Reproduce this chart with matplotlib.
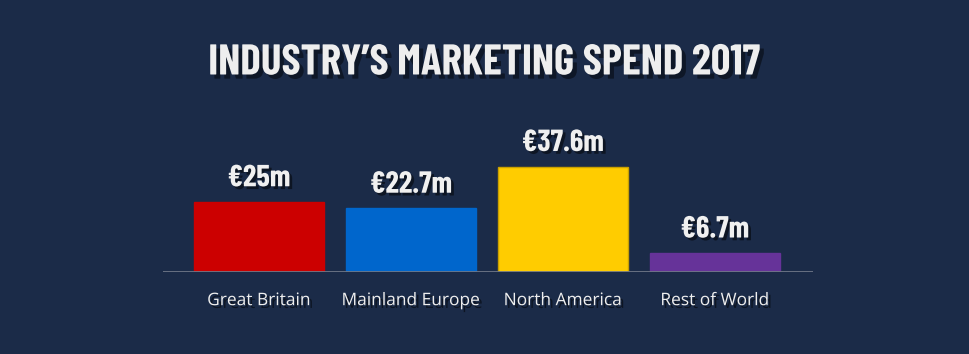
import matplotlib.pyplot as plt
import matplotlib.patheffects as pe
import numpy as np

categories = ["Great Britain", "Mainland Europe", "North America", "Rest of World"]
values = [25, 22.7, 37.6, 6.7]
value_labels = ["€25m", "€22.7m", "€37.6m", "€6.7m"]
colors = ["#cc0000", "#0066cc", "#ffcc00", "#663399"]
edges = ["#cc0000", "#0066cc", "#c9a000", "#663399"]
title = "INDUSTRY’S MARKETING SPEND 2017"

cond = ["Barlow Condensed", "DejaVu Sans"]
plain = ["Open Sans", "DejaVu Sans"]

bg = "#1b2b48"
W, H = 970, 354
fig = plt.figure(figsize=(W / 100, H / 100), dpi=100, facecolor=bg)

# axes placed so that baseline sits at y=272px, 2.8 px per unit
ax = fig.add_axes([163 / W, (H - 272) / H, 650 / W, 140 / H])
ax.set_facecolor(bg)
ax.set_xlim(-0.632, 3.645)
ax.set_ylim(0, 50)

x = np.arange(len(categories))
ax.bar(x, values, width=0.855, color=colors, edgecolor=edges, linewidth=1)
ax.axhline(0, color="#6f7787", linewidth=2)

shadow = [pe.withSimplePatchShadow(offset=(2, -2), shadow_rgbFace="black", alpha=0.5)]

for xi, v, lab in zip(x, values, value_labels):
    ax.annotate(lab, (xi, v), xytext=(0, 7), textcoords="offset points",
                ha="center", va="bottom", fontsize=22, fontweight="bold",
                color="#f0f0f0", family=cond, path_effects=shadow)

for xi, cat in zip(x, categories):
    ax.annotate(cat, (xi, 0), xytext=(0, -21), textcoords="offset points",
                ha="center", va="center", fontsize=12.5, color="#eeeeee",
                family=plain, path_effects=shadow)

for s in ax.spines.values():
    s.set_visible(False)
ax.set_xticks([])
ax.set_yticks([])

fig.text(484 / W, 1 - 63 / H, title, ha="center", va="center", fontsize=31,
         fontweight="bold", color="#eeeeee", family=cond,
         path_effects=[pe.withSimplePatchShadow(offset=(3, -3), shadow_rgbFace="black", alpha=0.45)])

fig.savefig("out.png", dpi=100, facecolor=bg)
